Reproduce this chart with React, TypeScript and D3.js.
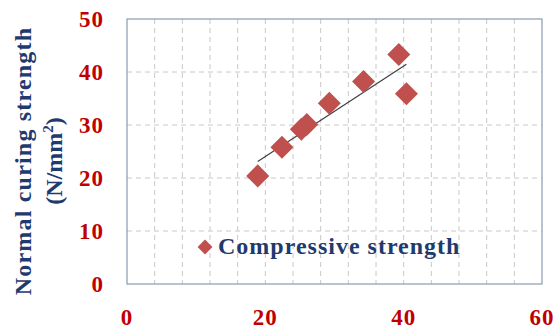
import React from 'react';
import { scaleLinear, line, symbol, symbolSquare, mean, range } from 'd3';

// values
const ageDays = [18.9, 22.4, 25.2, 26.0, 29.25, 34.2, 39.3, 40.4];
const strength = [20.4, 25.8, 29.2, 30.1, 34.1, 38.2, 43.3, 35.9];
const xTicks = [0, 20, 40, 60];
const yTicks = [0, 10, 20, 30, 40, 50];
const seriesName = 'Compressive strength';

const red = '#C00000';
const navy = '#1F3A6E';
const markerColor = '#C0504D';
const font = '"Liberation Serif", "Times New Roman", serif';

export default function App() {
  const width = 555;
  const height = 331;
  const margin = { top: 19, right: 13, bottom: 47, left: 127 };

  const xScale = scaleLinear().domain([0, 60]).range([margin.left, width - margin.right]);
  const yScale = scaleLinear().domain([0, 50]).range([height - margin.bottom, margin.top]);

  const points = ageDays.map((x, i) => ({ x, y: strength[i] }));

  // linear trendline like excel
  const mx = mean(ageDays) as number;
  const my = mean(strength) as number;
  let sxy = 0;
  let sxx = 0;
  points.forEach(p => {
    sxy += (p.x - mx) * (p.y - my);
    sxx += (p.x - mx) * (p.x - mx);
  });
  const slope = sxy / sxx;
  const icpt = my - slope * mx;
  const xMin = Math.min(...ageDays);
  const xMax = Math.max(...ageDays);
  const trend = [xMin, xMax].map(x => ({ x, y: icpt + slope * x }));
  const trendPath = line<{ x: number; y: number }>()
    .x(d => xScale(d.x))
    .y(d => yScale(d.y))(trend);

  const diamond = symbol().type(symbolSquare).size(265)();
  const legendDiamond = symbol().type(symbolSquare).size(110)();

  const x0 = xScale(0);
  const x1 = xScale(60);
  const y0 = yScale(0);
  const y1 = yScale(50);
  const vGrid = range(4, 60, 4);
  const hGrid = [10, 20, 30, 40];

  return (
    <svg
      width={width}
      height={height}
      style={{ position: 'absolute', left: 0, top: 0, background: '#fff' }}
      fontFamily={font}
      fontWeight="bold"
    >
      <g stroke="#C8C8C8" strokeDasharray="5,4" strokeWidth={1}>
        {vGrid.map(v => (
          <line key={'v' + v} x1={xScale(v)} x2={xScale(v)} y1={y1} y2={y0} />
        ))}
        {hGrid.map(v => (
          <line key={'h' + v} x1={x0} x2={x1} y1={yScale(v)} y2={yScale(v)} />
        ))}
      </g>
      <rect x={x0} y={y1} width={x1 - x0} height={y0 - y1} fill="none" stroke="#8A9AB2" strokeWidth={1.2} />

      {yTicks.map(t => (
        <text key={t} x={104} y={yScale(t) + 8} textAnchor="end" fill={red} fontSize={23} letterSpacing={1}>
          {t}
        </text>
      ))}
      {xTicks.map(t => (
        <text key={t} x={xScale(t)} y={325} textAnchor="middle" fill={red} fontSize={23} letterSpacing={1}>
          {t}
        </text>
      ))}

      <text
        transform={`translate(31,161) rotate(-90)`}
        textAnchor="middle"
        fill={navy}
        fontSize={24}
        letterSpacing={1.2}
      >
        Normal curing strength
      </text>
      <text transform={`translate(62,161) rotate(-90)`} textAnchor="middle" fill={navy} fontSize={24}>
        (N/mm<tspan fontSize={15} dy={-9}>2</tspan>
        <tspan dy={9}>)</tspan>
      </text>

      <path d={trendPath || ''} fill="none" stroke="#404040" strokeWidth={1.2} />

      {points.map((p, i) => (
        <path
          key={i}
          d={diamond || ''}
          transform={`translate(${xScale(p.x)},${yScale(p.y)}) rotate(45)`}
          fill={markerColor}
        />
      ))}

      <path d={legendDiamond || ''} transform="translate(205,247) rotate(45)" fill={markerColor} />
      <text x={218} y={254} fill={navy} fontSize={24} letterSpacing={1}>
        {seriesName}
      </text>
    </svg>
  );
}
